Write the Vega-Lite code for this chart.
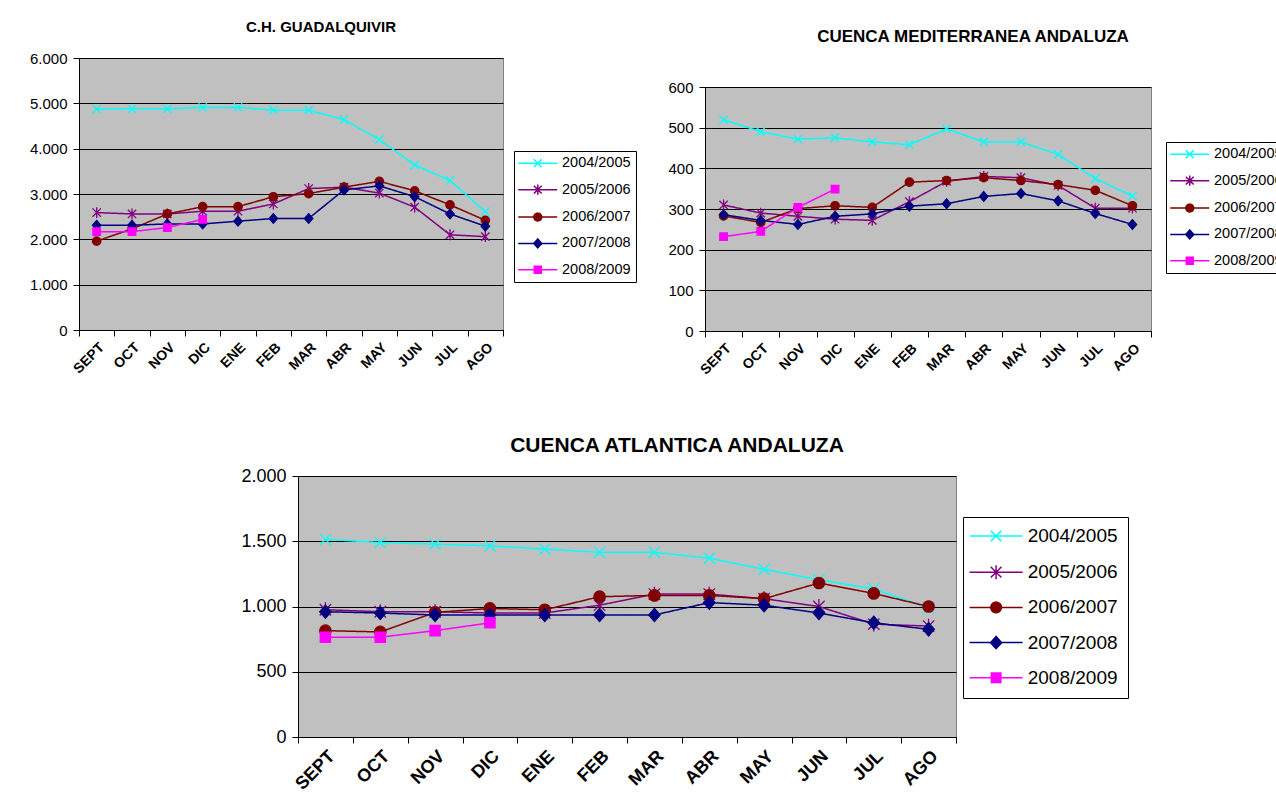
{
  "$schema": "https://vega.github.io/schema/vega-lite/v6.json",
  "background": "white",
  "padding": {"left": 21, "top": 19, "right": 0, "bottom": 0},
  "config": {
    "font": "Liberation Sans",
    "view": {"fill": "#C0C0C0", "stroke": "#808080", "strokeWidth": 1},
    "axis": {"labelColor": "black", "domainColor": "black", "tickColor": "black", "labelFont": "Liberation Sans"},
    "title": {"color": "black", "fontWeight": "bold", "font": "Liberation Sans"},
    "legend": {"labelFont": "Liberation Sans", "labelColor": "black"}
  },
  "resolve": {"scale": {"color": "independent", "stroke": "independent", "shape": "independent", "strokeDash": "independent"}, "legend": {"strokeDash": "independent"}},
  "datasets": {
    "guad": [
      {"mes": "SEPT", "serie": "2004/2005", "v": 4870}, {"mes": "OCT", "serie": "2004/2005", "v": 4880}, {"mes": "NOV", "serie": "2004/2005", "v": 4880}, {"mes": "DIC", "serie": "2004/2005", "v": 4910}, {"mes": "ENE", "serie": "2004/2005", "v": 4910}, {"mes": "FEB", "serie": "2004/2005", "v": 4850}, {"mes": "MAR", "serie": "2004/2005", "v": 4850}, {"mes": "ABR", "serie": "2004/2005", "v": 4640}, {"mes": "MAY", "serie": "2004/2005", "v": 4200}, {"mes": "JUN", "serie": "2004/2005", "v": 3640}, {"mes": "JUL", "serie": "2004/2005", "v": 3300}, {"mes": "AGO", "serie": "2004/2005", "v": 2610},
      {"mes": "SEPT", "serie": "2005/2006", "v": 2590}, {"mes": "OCT", "serie": "2005/2006", "v": 2560}, {"mes": "NOV", "serie": "2005/2006", "v": 2560}, {"mes": "DIC", "serie": "2005/2006", "v": 2620}, {"mes": "ENE", "serie": "2005/2006", "v": 2620}, {"mes": "FEB", "serie": "2005/2006", "v": 2780}, {"mes": "MAR", "serie": "2005/2006", "v": 3120}, {"mes": "ABR", "serie": "2005/2006", "v": 3150}, {"mes": "MAY", "serie": "2005/2006", "v": 3020}, {"mes": "JUN", "serie": "2005/2006", "v": 2710}, {"mes": "JUL", "serie": "2005/2006", "v": 2100}, {"mes": "AGO", "serie": "2005/2006", "v": 2060},
      {"mes": "SEPT", "serie": "2006/2007", "v": 1960}, {"mes": "OCT", "serie": "2006/2007", "v": 2230}, {"mes": "NOV", "serie": "2006/2007", "v": 2560}, {"mes": "DIC", "serie": "2006/2007", "v": 2720}, {"mes": "ENE", "serie": "2006/2007", "v": 2720}, {"mes": "FEB", "serie": "2006/2007", "v": 2940}, {"mes": "MAR", "serie": "2006/2007", "v": 3010}, {"mes": "ABR", "serie": "2006/2007", "v": 3150}, {"mes": "MAY", "serie": "2006/2007", "v": 3280}, {"mes": "JUN", "serie": "2006/2007", "v": 3070}, {"mes": "JUL", "serie": "2006/2007", "v": 2760}, {"mes": "AGO", "serie": "2006/2007", "v": 2420},
      {"mes": "SEPT", "serie": "2007/2008", "v": 2310}, {"mes": "OCT", "serie": "2007/2008", "v": 2310}, {"mes": "NOV", "serie": "2007/2008", "v": 2340}, {"mes": "DIC", "serie": "2007/2008", "v": 2340}, {"mes": "ENE", "serie": "2007/2008", "v": 2400}, {"mes": "FEB", "serie": "2007/2008", "v": 2460}, {"mes": "MAR", "serie": "2007/2008", "v": 2460}, {"mes": "ABR", "serie": "2007/2008", "v": 3090}, {"mes": "MAY", "serie": "2007/2008", "v": 3180}, {"mes": "JUN", "serie": "2007/2008", "v": 2940}, {"mes": "JUL", "serie": "2007/2008", "v": 2560}, {"mes": "AGO", "serie": "2007/2008", "v": 2290},
      {"mes": "SEPT", "serie": "2008/2009", "v": 2170}, {"mes": "OCT", "serie": "2008/2009", "v": 2170}, {"mes": "NOV", "serie": "2008/2009", "v": 2260}, {"mes": "DIC", "serie": "2008/2009", "v": 2440}
    ],
    "med": [
      {"mes": "SEPT", "serie": "2004/2005", "v": 520}, {"mes": "OCT", "serie": "2004/2005", "v": 490}, {"mes": "NOV", "serie": "2004/2005", "v": 472}, {"mes": "DIC", "serie": "2004/2005", "v": 475}, {"mes": "ENE", "serie": "2004/2005", "v": 465}, {"mes": "FEB", "serie": "2004/2005", "v": 458}, {"mes": "MAR", "serie": "2004/2005", "v": 497}, {"mes": "ABR", "serie": "2004/2005", "v": 465}, {"mes": "MAY", "serie": "2004/2005", "v": 465}, {"mes": "JUN", "serie": "2004/2005", "v": 434}, {"mes": "JUL", "serie": "2004/2005", "v": 375}, {"mes": "AGO", "serie": "2004/2005", "v": 332},
      {"mes": "SEPT", "serie": "2005/2006", "v": 310}, {"mes": "OCT", "serie": "2005/2006", "v": 290}, {"mes": "NOV", "serie": "2005/2006", "v": 282}, {"mes": "DIC", "serie": "2005/2006", "v": 275}, {"mes": "ENE", "serie": "2005/2006", "v": 272}, {"mes": "FEB", "serie": "2005/2006", "v": 318}, {"mes": "MAR", "serie": "2005/2006", "v": 368}, {"mes": "ABR", "serie": "2005/2006", "v": 380}, {"mes": "MAY", "serie": "2005/2006", "v": 377}, {"mes": "JUN", "serie": "2005/2006", "v": 358}, {"mes": "JUL", "serie": "2005/2006", "v": 302}, {"mes": "AGO", "serie": "2005/2006", "v": 302},
      {"mes": "SEPT", "serie": "2006/2007", "v": 283}, {"mes": "OCT", "serie": "2006/2007", "v": 267}, {"mes": "NOV", "serie": "2006/2007", "v": 301}, {"mes": "DIC", "serie": "2006/2007", "v": 308}, {"mes": "ENE", "serie": "2006/2007", "v": 304}, {"mes": "FEB", "serie": "2006/2007", "v": 366}, {"mes": "MAR", "serie": "2006/2007", "v": 370}, {"mes": "ABR", "serie": "2006/2007", "v": 377}, {"mes": "MAY", "serie": "2006/2007", "v": 370}, {"mes": "JUN", "serie": "2006/2007", "v": 360}, {"mes": "JUL", "serie": "2006/2007", "v": 346}, {"mes": "AGO", "serie": "2006/2007", "v": 308},
      {"mes": "SEPT", "serie": "2007/2008", "v": 286}, {"mes": "OCT", "serie": "2007/2008", "v": 272}, {"mes": "NOV", "serie": "2007/2008", "v": 262}, {"mes": "DIC", "serie": "2007/2008", "v": 282}, {"mes": "ENE", "serie": "2007/2008", "v": 288}, {"mes": "FEB", "serie": "2007/2008", "v": 307}, {"mes": "MAR", "serie": "2007/2008", "v": 313}, {"mes": "ABR", "serie": "2007/2008", "v": 331}, {"mes": "MAY", "serie": "2007/2008", "v": 338}, {"mes": "JUN", "serie": "2007/2008", "v": 320}, {"mes": "JUL", "serie": "2007/2008", "v": 289}, {"mes": "AGO", "serie": "2007/2008", "v": 262},
      {"mes": "SEPT", "serie": "2008/2009", "v": 232}, {"mes": "OCT", "serie": "2008/2009", "v": 245}, {"mes": "NOV", "serie": "2008/2009", "v": 304}, {"mes": "DIC", "serie": "2008/2009", "v": 349}
    ],
    "atl": [
      {"mes": "SEPT", "serie": "2004/2005", "v": 1515}, {"mes": "OCT", "serie": "2004/2005", "v": 1490}, {"mes": "NOV", "serie": "2004/2005", "v": 1478}, {"mes": "DIC", "serie": "2004/2005", "v": 1465}, {"mes": "ENE", "serie": "2004/2005", "v": 1440}, {"mes": "FEB", "serie": "2004/2005", "v": 1415}, {"mes": "MAR", "serie": "2004/2005", "v": 1415}, {"mes": "ABR", "serie": "2004/2005", "v": 1370}, {"mes": "MAY", "serie": "2004/2005", "v": 1285}, {"mes": "JUN", "serie": "2004/2005", "v": 1205}, {"mes": "JUL", "serie": "2004/2005", "v": 1135}, {"mes": "AGO", "serie": "2004/2005", "v": 990},
      {"mes": "SEPT", "serie": "2005/2006", "v": 975}, {"mes": "OCT", "serie": "2005/2006", "v": 960}, {"mes": "NOV", "serie": "2005/2006", "v": 960}, {"mes": "DIC", "serie": "2005/2006", "v": 950}, {"mes": "ENE", "serie": "2005/2006", "v": 950}, {"mes": "FEB", "serie": "2005/2006", "v": 1010}, {"mes": "MAR", "serie": "2005/2006", "v": 1095}, {"mes": "ABR", "serie": "2005/2006", "v": 1095}, {"mes": "MAY", "serie": "2005/2006", "v": 1060}, {"mes": "JUN", "serie": "2005/2006", "v": 1000}, {"mes": "JUL", "serie": "2005/2006", "v": 865}, {"mes": "AGO", "serie": "2005/2006", "v": 850},
      {"mes": "SEPT", "serie": "2006/2007", "v": 815}, {"mes": "OCT", "serie": "2006/2007", "v": 805}, {"mes": "NOV", "serie": "2006/2007", "v": 955}, {"mes": "DIC", "serie": "2006/2007", "v": 985}, {"mes": "ENE", "serie": "2006/2007", "v": 975}, {"mes": "FEB", "serie": "2006/2007", "v": 1075}, {"mes": "MAR", "serie": "2006/2007", "v": 1085}, {"mes": "ABR", "serie": "2006/2007", "v": 1085}, {"mes": "MAY", "serie": "2006/2007", "v": 1060}, {"mes": "JUN", "serie": "2006/2007", "v": 1180}, {"mes": "JUL", "serie": "2006/2007", "v": 1100}, {"mes": "AGO", "serie": "2006/2007", "v": 1000},
      {"mes": "SEPT", "serie": "2007/2008", "v": 960}, {"mes": "OCT", "serie": "2007/2008", "v": 950}, {"mes": "NOV", "serie": "2007/2008", "v": 935}, {"mes": "DIC", "serie": "2007/2008", "v": 935}, {"mes": "ENE", "serie": "2007/2008", "v": 935}, {"mes": "FEB", "serie": "2007/2008", "v": 935}, {"mes": "MAR", "serie": "2007/2008", "v": 935}, {"mes": "ABR", "serie": "2007/2008", "v": 1030}, {"mes": "MAY", "serie": "2007/2008", "v": 1010}, {"mes": "JUN", "serie": "2007/2008", "v": 950}, {"mes": "JUL", "serie": "2007/2008", "v": 875}, {"mes": "AGO", "serie": "2007/2008", "v": 825},
      {"mes": "SEPT", "serie": "2008/2009", "v": 765}, {"mes": "OCT", "serie": "2008/2009", "v": 765}, {"mes": "NOV", "serie": "2008/2009", "v": 815}, {"mes": "DIC", "serie": "2008/2009", "v": 875}
    ]
  },
  "vconcat": [
    {
      "resolve": {"scale": {"color": "independent", "stroke": "independent", "shape": "independent", "strokeDash": "independent"}, "legend": {"strokeDash": "independent"}},
      "spacing": 27,
      "hconcat": [
        {
          "width": 424, "height": 272,
          "title": {"text": "C.H. GUADALQUIVIR", "fontSize": 15, "offset": 16.5, "dx": 30, "anchor": "middle"},
          "data": {"name": "guad"},
          "encoding": {
            "x": {"field": "mes", "type": "nominal", "sort": null, "scale": {"type": "band", "domain": ["SEPT", "OCT", "NOV", "DIC", "ENE", "FEB", "MAR", "ABR", "MAY", "JUN", "JUL", "AGO"], "paddingInner": 0, "paddingOuter": 0}, "axis": {"title": null, "tickBand": "extent", "labelAngle": -45, "labelFontWeight": "bold", "labelFontSize": 14, "tickSize": 6, "labelPadding": 4, "grid": false}},
            "y": {"field": "v", "type": "quantitative", "scale": {"domain": [0, 6000], "nice": false}, "axis": {"title": null, "values": [0, 1000, 2000, 3000, 4000, 5000, 6000], "labelExpr": "replace(format(datum.value, ','), ',', '.')", "labelFontSize": 15, "tickSize": 6, "labelPadding": 6, "minExtent": 57, "grid": true, "gridColor": "black", "gridOpacity": 1, "gridWidth": 1}}
          },
          "layer": [
            {
              "mark": {"type": "line", "strokeWidth": 1.5},
              "encoding": {
                "color": {"field": "serie", "type": "nominal", "scale": {"domain": ["2004/2005", "2005/2006", "2006/2007", "2007/2008", "2008/2009"], "range": ["#00FFFF", "#800080", "#800000", "#000080", "#FF00FF"]}, "legend": null},
                "strokeDash": {"field": "serie", "type": "nominal", "scale": {"range": [[1, 0], [1, 0], [1, 0], [1, 0], [1, 0]]},
                  "legend": {"title": null, "orient": "none", "legendX": 435, "legendY": 93, "strokeColor": "black", "fillColor": "white", "padding": 5, "cornerRadius": 0, "labelFontSize": 14.5, "rowPadding": 10.4, "symbolSize": 144, "symbolOffset": 11.5, "labelOffset": 17, "symbolStrokeWidth": 1.5,
                    "encode": {"symbols": {"update": {
                      "shape": {"signal": "datum.value==='2004/2005'?'M-3.25,0L3.25,0M-0.65,-0.65L0.65,0.65M-0.65,0.65L0.65,-0.65':datum.value==='2005/2006'?'M-3.25,0L3.25,0M-0.65,-0.65L0.65,0.65M-0.65,0.65L0.65,-0.65M0,-0.85L0,0.85':datum.value==='2006/2007'?'M-3.25,0L3.25,0M-0.65,0A0.65,0.65,0,1,1,0.65,0A0.65,0.65,0,1,1,-0.65,0Z':datum.value==='2007/2008'?'M-3.25,0L3.25,0M0,-0.75L0.68,0L0,0.75L-0.68,0Z':'M-3.25,0L3.25,0M-0.58,-0.58L0.58,-0.58L0.58,0.58L-0.58,0.58Z'"},
                      "fill": {"signal": "datum.value==='2004/2005'?'#00FFFF':datum.value==='2005/2006'?'#800080':datum.value==='2006/2007'?'#800000':datum.value==='2007/2008'?'#000080':'#FF00FF'"},
                      "stroke": {"signal": "datum.value==='2004/2005'?'#00FFFF':datum.value==='2005/2006'?'#800080':datum.value==='2006/2007'?'#800000':datum.value==='2007/2008'?'#000080':'#FF00FF'"},
                      "strokeWidth": {"value": 1.5},
                      "opacity": {"value": 1}
                    }}}}}
              }
            },
            {
              "mark": {"type": "point", "filled": true, "size": 70, "strokeWidth": 1.3, "opacity": 1},
              "encoding": {
                "color": {"field": "serie", "type": "nominal", "legend": null},
                "stroke": {"field": "serie", "type": "nominal", "scale": {"domain": ["2004/2005", "2005/2006", "2006/2007", "2007/2008", "2008/2009"], "range": ["#00FFFF", "#800080", "#800000", "#000080", "#FF00FF"]}, "legend": null},
                "shape": {"field": "serie", "type": "nominal", "scale": {"domain": ["2004/2005", "2005/2006", "2006/2007", "2007/2008", "2008/2009"], "range": ["M-1,-1L1,1M-1,1L1,-1", "M-1,-1L1,1M-1,1L1,-1M0,-1.3L0,1.3", "M-1,0A1,1,0,1,1,1,0A1,1,0,1,1,-1,0Z", "M0,-1.15L1,0L0,1.15L-1,0Z", "M-0.9,-0.9L0.9,-0.9L0.9,0.9L-0.9,0.9Z"]}, "legend": null}
              }
            }
          ]
        },
        {
          "resolve": {"scale": {"color": "independent", "stroke": "independent", "shape": "independent", "strokeDash": "independent"}, "legend": {"strokeDash": "independent"}},
          "spacing": -32,
          "vconcat": [
            {"width": 1, "height": 1, "data": {"values": []}, "mark": {"type": "point", "opacity": 0}, "view": {"stroke": null, "fill": null}},
            {
              "width": 446, "height": 244,
              "title": {"text": "CUENCA MEDITERRANEA ANDALUZA", "fontSize": 17, "offset": 34.5, "dx": 45, "anchor": "middle"},
              "data": {"name": "med"},
              "encoding": {
                "x": {"field": "mes", "type": "nominal", "sort": null, "scale": {"type": "band", "domain": ["SEPT", "OCT", "NOV", "DIC", "ENE", "FEB", "MAR", "ABR", "MAY", "JUN", "JUL", "AGO"], "paddingInner": 0, "paddingOuter": 0}, "axis": {"title": null, "tickBand": "extent", "labelAngle": -45, "labelFontWeight": "bold", "labelFontSize": 14, "tickSize": 6, "labelPadding": 4, "grid": false}},
                "y": {"field": "v", "type": "quantitative", "scale": {"domain": [0, 600], "nice": false}, "axis": {"title": null, "values": [0, 100, 200, 300, 400, 500, 600], "labelFontSize": 15, "tickSize": 6, "labelPadding": 6, "minExtent": 40, "grid": true, "gridColor": "black", "gridOpacity": 1, "gridWidth": 1}}
              },
              "layer": [
                {
                  "mark": {"type": "line", "strokeWidth": 1.5},
                  "encoding": {
                    "color": {"field": "serie", "type": "nominal", "scale": {"domain": ["2004/2005", "2005/2006", "2006/2007", "2007/2008", "2008/2009"], "range": ["#00FFFF", "#800080", "#800000", "#000080", "#FF00FF"]}, "legend": null},
                    "strokeDash": {"field": "serie", "type": "nominal", "scale": {"range": [[1, 0], [1, 0], [1, 0], [1, 0], [1, 0]]},
                      "legend": {"title": null, "orient": "none", "legendX": 461, "legendY": 55, "strokeColor": "black", "fillColor": "white", "padding": 5, "cornerRadius": 0, "labelFontSize": 14.5, "rowPadding": 10.4, "symbolSize": 144, "symbolOffset": 11.5, "labelOffset": 17, "symbolStrokeWidth": 1.5,
                        "encode": {"symbols": {"update": {
                          "shape": {"signal": "datum.value==='2004/2005'?'M-3.25,0L3.25,0M-0.65,-0.65L0.65,0.65M-0.65,0.65L0.65,-0.65':datum.value==='2005/2006'?'M-3.25,0L3.25,0M-0.65,-0.65L0.65,0.65M-0.65,0.65L0.65,-0.65M0,-0.85L0,0.85':datum.value==='2006/2007'?'M-3.25,0L3.25,0M-0.65,0A0.65,0.65,0,1,1,0.65,0A0.65,0.65,0,1,1,-0.65,0Z':datum.value==='2007/2008'?'M-3.25,0L3.25,0M0,-0.75L0.68,0L0,0.75L-0.68,0Z':'M-3.25,0L3.25,0M-0.58,-0.58L0.58,-0.58L0.58,0.58L-0.58,0.58Z'"},
                          "fill": {"signal": "datum.value==='2004/2005'?'#00FFFF':datum.value==='2005/2006'?'#800080':datum.value==='2006/2007'?'#800000':datum.value==='2007/2008'?'#000080':'#FF00FF'"},
                          "stroke": {"signal": "datum.value==='2004/2005'?'#00FFFF':datum.value==='2005/2006'?'#800080':datum.value==='2006/2007'?'#800000':datum.value==='2007/2008'?'#000080':'#FF00FF'"},
                          "strokeWidth": {"value": 1.5},
                          "opacity": {"value": 1}
                        }}}}}
                  }
                },
                {
                  "mark": {"type": "point", "filled": true, "size": 70, "strokeWidth": 1.3, "opacity": 1},
                  "encoding": {
                    "color": {"field": "serie", "type": "nominal", "legend": null},
                    "stroke": {"field": "serie", "type": "nominal", "scale": {"domain": ["2004/2005", "2005/2006", "2006/2007", "2007/2008", "2008/2009"], "range": ["#00FFFF", "#800080", "#800000", "#000080", "#FF00FF"]}, "legend": null},
                    "shape": {"field": "serie", "type": "nominal", "scale": {"domain": ["2004/2005", "2005/2006", "2006/2007", "2007/2008", "2008/2009"], "range": ["M-1,-1L1,1M-1,1L1,-1", "M-1,-1L1,1M-1,1L1,-1M0,-1.3L0,1.3", "M-1,0A1,1,0,1,1,1,0A1,1,0,1,1,-1,0Z", "M0,-1.15L1,0L0,1.15L-1,0Z", "M-0.9,-0.9L0.9,-0.9L0.9,0.9L-0.9,0.9Z"]}, "legend": null}
                  }
                }
              ]
            }
          ]
        }
      ]
    },
    {
      "resolve": {"scale": {"color": "independent", "stroke": "independent", "shape": "independent", "strokeDash": "independent"}, "legend": {"strokeDash": "independent"}},
      "spacing": 58,
      "hconcat": [
        {"width": 100, "height": 1, "data": {"values": []}, "mark": {"type": "point", "opacity": 0}, "view": {"stroke": null, "fill": null}},
        {
          "width": 658, "height": 261,
          "title": {"text": "CUENCA ATLANTICA ANDALUZA", "fontSize": 21, "offset": 11.5, "dx": 50, "anchor": "middle"},
          "data": {"name": "atl"},
          "encoding": {
            "x": {"field": "mes", "type": "nominal", "sort": null, "scale": {"type": "band", "domain": ["SEPT", "OCT", "NOV", "DIC", "ENE", "FEB", "MAR", "ABR", "MAY", "JUN", "JUL", "AGO"], "paddingInner": 0, "paddingOuter": 0}, "axis": {"title": null, "tickBand": "extent", "labelAngle": -45, "labelFontWeight": "bold", "labelFontSize": 18, "tickSize": 6, "labelPadding": 4, "grid": false}},
            "y": {"field": "v", "type": "quantitative", "scale": {"domain": [0, 2000], "nice": false}, "axis": {"title": null, "values": [0, 500, 1000, 1500, 2000], "labelExpr": "replace(format(datum.value, ','), ',', '.')", "labelFontSize": 18, "tickSize": 6, "labelPadding": 6, "minExtent": 60, "grid": true, "gridColor": "black", "gridOpacity": 1, "gridWidth": 1}}
          },
          "layer": [
            {
              "mark": {"type": "line", "strokeWidth": 1.5},
              "encoding": {
                "color": {"field": "serie", "type": "nominal", "scale": {"domain": ["2004/2005", "2005/2006", "2006/2007", "2007/2008", "2008/2009"], "range": ["#00FFFF", "#800080", "#800000", "#000080", "#FF00FF"]}, "legend": null},
                "strokeDash": {"field": "serie", "type": "nominal", "scale": {"range": [[1, 0], [1, 0], [1, 0], [1, 0], [1, 0]]},
                  "legend": {"title": null, "orient": "none", "legendX": 665, "legendY": 41, "strokeColor": "black", "fillColor": "white", "padding": 9.5, "cornerRadius": 0, "labelFontSize": 19, "rowPadding": 15.2, "symbolSize": 266, "symbolOffset": 14.1, "labelOffset": 22.1, "symbolStrokeWidth": 1.5,
                    "encode": {"symbols": {"update": {
                      "shape": {"signal": "datum.value==='2004/2005'?'M-3.25,0L3.25,0M-0.65,-0.65L0.65,0.65M-0.65,0.65L0.65,-0.65':datum.value==='2005/2006'?'M-3.25,0L3.25,0M-0.65,-0.65L0.65,0.65M-0.65,0.65L0.65,-0.65M0,-0.85L0,0.85':datum.value==='2006/2007'?'M-3.25,0L3.25,0M-0.65,0A0.65,0.65,0,1,1,0.65,0A0.65,0.65,0,1,1,-0.65,0Z':datum.value==='2007/2008'?'M-3.25,0L3.25,0M0,-0.75L0.68,0L0,0.75L-0.68,0Z':'M-3.25,0L3.25,0M-0.58,-0.58L0.58,-0.58L0.58,0.58L-0.58,0.58Z'"},
                      "fill": {"signal": "datum.value==='2004/2005'?'#00FFFF':datum.value==='2005/2006'?'#800080':datum.value==='2006/2007'?'#800000':datum.value==='2007/2008'?'#000080':'#FF00FF'"},
                      "stroke": {"signal": "datum.value==='2004/2005'?'#00FFFF':datum.value==='2005/2006'?'#800080':datum.value==='2006/2007'?'#800000':datum.value==='2007/2008'?'#000080':'#FF00FF'"},
                      "strokeWidth": {"value": 1.5},
                      "opacity": {"value": 1}
                    }}}}}
              }
            },
            {
              "mark": {"type": "point", "filled": true, "size": 130, "strokeWidth": 1.3, "opacity": 1},
              "encoding": {
                "color": {"field": "serie", "type": "nominal", "legend": null},
                "stroke": {"field": "serie", "type": "nominal", "scale": {"domain": ["2004/2005", "2005/2006", "2006/2007", "2007/2008", "2008/2009"], "range": ["#00FFFF", "#800080", "#800000", "#000080", "#FF00FF"]}, "legend": null},
                "shape": {"field": "serie", "type": "nominal", "scale": {"domain": ["2004/2005", "2005/2006", "2006/2007", "2007/2008", "2008/2009"], "range": ["M-1,-1L1,1M-1,1L1,-1", "M-1,-1L1,1M-1,1L1,-1M0,-1.3L0,1.3", "M-1,0A1,1,0,1,1,1,0A1,1,0,1,1,-1,0Z", "M0,-1.15L1,0L0,1.15L-1,0Z", "M-0.9,-0.9L0.9,-0.9L0.9,0.9L-0.9,0.9Z"]}, "legend": null}
              }
            }
          ]
        }
      ]
    }
  ],
  "spacing": 56
}
